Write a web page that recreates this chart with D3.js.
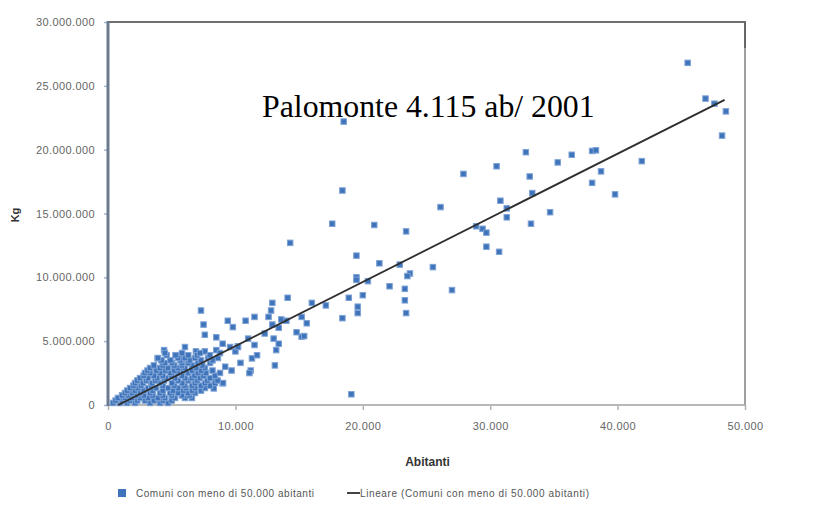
<!DOCTYPE html>
<html>
<head>
<meta charset="utf-8">
<script src="https://cdn.jsdelivr.net/npm/d3@7"></script>
<style>
  html, body { margin: 0; padding: 0; background: #fff; }
  svg { display: block; }
</style>
</head>
<body>
<svg id="chart" width="815" height="523"></svg>
<script>
// ---- Data (inhabitants, kg) ----
// sparse points
const abitanti = [
  45500, 46900, 47600, 48500, 48200, 32800, 30500, 27900, 35300, 36400, 38000, 38300, 41900,
  33100, 38700, 38000, 39800, 33300, 30800, 31300, 31300, 34700, 28900, 29400, 29700, 33200,
  29700, 30700, 26100, 18500, 18400, 17600, 20900, 23400, 19500, 21300, 22900, 25500, 23700,
  23500, 19500, 19500, 20400, 22100, 23300, 27000, 20000, 18900, 16000, 17100, 19600, 19600,
  23300, 23400, 18400, 15200, 15600, 15200, 15400, 19100, 14300, 14100, 12900, 12800, 7300,
  7500, 9400, 9800, 10800, 11500, 12600, 13600, 14000, 12900, 13400, 14800, 7600, 8500, 9000,
  11000, 11500, 12300, 13000, 13400, 13200, 6900, 7600, 8500, 10000, 10200, 11300, 11700,
  10400, 11200, 13100, 9700, 8300, 9200, 9000, 8300, 11100, 4400, 3900, 5650
];
const kg = [
  26800000, 24000000, 23600000, 23000000, 21100000, 19800000, 18700000, 18100000, 19000000, 19600000, 19900000, 19950000, 19100000,
  17900000, 18300000, 17400000, 16500000, 16600000, 16000000, 15400000, 14700000, 15100000, 14000000, 13800000, 13500000, 14200000,
  12400000, 12000000, 15500000, 22200000, 16800000, 14200000, 14100000, 13600000, 11700000, 11100000, 11000000, 10800000, 10300000,
  10100000, 10000000, 9800000, 9700000, 9300000, 9100000, 9000000, 8600000, 8400000, 8000000, 7800000, 7700000, 7200000,
  8200000, 7200000, 6800000, 6900000, 6400000, 5350000, 5400000, 840000, 12700000, 8400000, 8000000, 7400000, 7400000,
  6300000, 6600000, 6100000, 6600000, 6900000, 6900000, 6700000, 6600000, 6300000, 6050000, 5700000, 5500000, 5300000, 4800000,
  5200000, 4700000, 5600000, 5200000, 4800000, 4300000, 4200000, 4200000, 4300000, 4200000, 4600000, 3650000, 3900000,
  3300000, 2700000, 3100000, 2700000, 2100000, 3000000, 1700000, 1300000, 2500000, 4300000, 3650000, 3900000
];
// dense cluster of small towns
const clusterAbitanti = [
  390, 940, 1490, 2120, 3300, 4080, 4710,
  600, 1100, 1700, 2300, 2900, 3600, 4300, 5000,
  780, 1330, 1880, 2510, 3140, 3920, 4470, 5260, 6040, 6590,
  1100, 1600, 2200, 2800, 3500, 4300, 5000, 5800, 6400,
  1330, 1880, 2510, 3300, 4080, 4870, 5490, 6280, 6830,
  1500, 2100, 2800, 3500, 4300, 5100, 5900, 6600, 7300,
  1730, 2350, 3140, 3770, 4710, 5490, 6120, 6830, 7610,
  2000, 2600, 3400, 4300, 5200, 6000, 6600, 7300, 8000,
  2120, 2750, 3450, 4080, 5020, 5810, 6830, 7610, 8400, 9030,
  2300, 3000, 3700, 4400, 5500, 6300, 7000, 7800, 8600,
  2510, 3140, 3850, 4550, 5260, 6040, 6590, 7220, 8010,
  2800, 3600, 4300, 5000, 5800, 6800, 7500, 8400,
  2900, 3300, 4080, 4870, 5490, 6280, 7060, 7690, 8790,
  3100, 3800, 4500, 5200, 5900, 6600, 7300, 8200,
  3300, 4080, 4710, 5490, 6040, 6910, 7610,
  3600, 4300, 5200, 5800, 6600, 7400,
  4470, 5020, 5810, 6280, 7060, 8010,
  4200, 4900, 5700, 6400, 7300, 8200,
  3920, 5490, 6040, 6830, 7850, 8630,
  4600, 5300, 6300, 7000, 8000,
  4470, 5810, 7220, 8790,
  6040, 9580, 10200
];
const clusterKg = [
  160000, 160000, 160000, 160000, 160000, 160000, 160000,
  350000, 350000, 350000, 350000, 350000, 350000, 350000, 350000,
  550000, 550000, 550000, 550000, 550000, 550000, 550000, 550000, 550000, 550000,
  750000, 750000, 750000, 750000, 750000, 750000, 750000, 750000, 750000,
  940000, 940000, 940000, 940000, 940000, 940000, 940000, 940000, 940000,
  1130000, 1130000, 1130000, 1130000, 1130000, 1130000, 1130000, 1130000, 1130000,
  1330000, 1330000, 1330000, 1330000, 1330000, 1330000, 1330000, 1330000, 1330000,
  1520000, 1520000, 1520000, 1520000, 1520000, 1520000, 1520000, 1520000, 1520000,
  1720000, 1720000, 1720000, 1720000, 1720000, 1720000, 1720000, 1720000, 1720000, 1720000,
  1920000, 1920000, 1920000, 1920000, 1920000, 1920000, 1920000, 1920000, 1920000,
  2110000, 2110000, 2110000, 2110000, 2110000, 2110000, 2110000, 2110000, 2110000,
  2300000, 2300000, 2300000, 2300000, 2300000, 2300000, 2300000, 2300000,
  2510000, 2510000, 2510000, 2510000, 2510000, 2510000, 2510000, 2510000, 2510000,
  2700000, 2700000, 2700000, 2700000, 2700000, 2700000, 2700000, 2700000,
  2900000, 2900000, 2900000, 2900000, 2900000, 2900000, 2900000,
  3100000, 3100000, 3100000, 3100000, 3100000, 3100000,
  3290000, 3290000, 3290000, 3290000, 3290000, 3290000,
  3500000, 3500000, 3500000, 3500000, 3500000, 3500000,
  3680000, 3680000, 3680000, 3680000, 3680000, 3680000,
  3900000, 3900000, 3900000, 3900000, 3900000,
  4070000, 4070000, 4070000, 4070000,
  4540000, 4540000, 4540000
];
// linear trend line end points
const trendX = [800, 48400];
const trendY = [0, 23900000];

const xTicks = [0, 10000, 20000, 30000, 40000, 50000];
const yTicks = [0, 5000000, 10000000, 15000000, 20000000, 25000000, 30000000];

const titleText = "Palomonte 4.115 ab/ 2001";
const xTitle = "Abitanti";
const yTitle = "Kg";
const legendSeries = "Comuni con meno di 50.000 abitanti";
const legendTrend = "Lineare (Comuni con meno di 50.000 abitanti)";

// ---- Layout ----
const L = 108, R = 745, T = 22, B = 405;
const svg = d3.select("#chart");
const x = d3.scaleLinear().domain([0, 50000]).range([L, R]);
const y = d3.scaleLinear().domain([0, 30000000]).range([B, T]);

const loc = d3.formatLocale({decimal: ",", thousands: ".", grouping: [3], currency: ["", "€"]});
const fmt = loc.format(",d");
const tickFont = "'Liberation Sans', Arial, sans-serif";

// Y axis (ticks + labels)
const yAxis = d3.axisLeft(y).tickValues(yTicks).tickSize(4).tickPadding(9).tickFormat(fmt);
const gy = svg.append("g").attr("transform", `translate(${L},0)`).call(yAxis);
gy.select(".domain").remove();
gy.selectAll(".tick line").attr("stroke", "#a7b6cc").attr("stroke-width", 1.5);
gy.selectAll(".tick text")
  .attr("font-family", tickFont).attr("font-size", 11).attr("letter-spacing", 0.4)
  .attr("fill", "#666");

// X axis
const xAxis = d3.axisBottom(x).tickValues(xTicks).tickSize(5).tickPadding(12).tickFormat(fmt);
const gx = svg.append("g").attr("transform", `translate(0,${B})`).call(xAxis);
gx.select(".domain").remove();
gx.selectAll(".tick line").attr("stroke", "#b0b0b0").attr("stroke-width", 1.5);
gx.selectAll(".tick text")
  .attr("font-family", tickFont).attr("font-size", 11).attr("letter-spacing", 0.4)
  .attr("fill", "#666");

// Frame
svg.append("line").attr("x1", L).attr("x2", R).attr("y1", B).attr("y2", B)
  .attr("stroke", "#b8b8b8").attr("stroke-width", 2);
svg.append("line").attr("x1", L).attr("x2", R + 1).attr("y1", T).attr("y2", T)
  .attr("stroke", "#6e6e6e").attr("stroke-width", 2);
svg.append("line").attr("x1", R).attr("x2", R).attr("y1", T).attr("y2", B)
  .attr("stroke", "#a0a0a0").attr("stroke-width", 2);
svg.append("line").attr("x1", R).attr("x2", R).attr("y1", T).attr("y2", T + 26)
  .attr("stroke", "#666").attr("stroke-width", 2);

// Points
const pts = abitanti.map((a, i) => ({a, k: kg[i]}))
  .concat(clusterAbitanti.map((a, i) => ({a, k: clusterKg[i]})));
const s = 5.5;
svg.append("g").selectAll("rect").data(pts).join("rect")
  .attr("x", d => x(d.a) - s / 2).attr("y", d => y(d.k) - s / 2)
  .attr("width", s).attr("height", s)
  .attr("fill", "#3f74ba").attr("stroke", "#7ea3d6").attr("stroke-width", 1);

// Left axis line (on top)
svg.append("line").attr("x1", L).attr("x2", L).attr("y1", T - 1).attr("y2", B + 1)
  .attr("stroke", "#6b7a8f").attr("stroke-width", 3);

// Trend line
const line = d3.line().x(d => x(d[0])).y(d => y(d[1]));
svg.append("path").datum(trendX.map((v, i) => [v, trendY[i]]))
  .attr("d", line).attr("fill", "none").attr("stroke", "#2e2e2e").attr("stroke-width", 1.8);

// Title
svg.append("text").attr("x", 262).attr("y", 117)
  .attr("font-family", "'Liberation Serif', 'Times New Roman', serif")
  .attr("font-size", 31.8).attr("fill", "#000").text(titleText);

// Axis titles
svg.append("text").attr("x", (L + R) / 2 + 1).attr("y", 466).attr("text-anchor", "middle")
  .attr("font-family", tickFont).attr("font-weight", "bold").attr("font-size", 12)
  .attr("fill", "#333").text(xTitle);
svg.append("text").attr("transform", "translate(19,215) rotate(-90)").attr("text-anchor", "middle")
  .attr("font-family", tickFont).attr("font-weight", "bold").attr("font-size", 11)
  .attr("fill", "#333").text(yTitle);

// Legend
svg.append("rect").attr("x", 118).attr("y", 489).attr("width", 8).attr("height", 8)
  .attr("fill", "#3f74ba");
svg.append("text").attr("x", 136).attr("y", 497)
  .attr("font-family", tickFont).attr("font-size", 10).attr("fill", "#555")
  .attr("textLength", 178).text(legendSeries);
svg.append("line").attr("x1", 347).attr("x2", 360).attr("y1", 493).attr("y2", 493)
  .attr("stroke", "#2e2e2e").attr("stroke-width", 1.8);
svg.append("text").attr("x", 360).attr("y", 497)
  .attr("font-family", tickFont).attr("font-size", 10).attr("fill", "#555")
  .attr("textLength", 229).text(legendTrend);
</script>
</body>
</html>
